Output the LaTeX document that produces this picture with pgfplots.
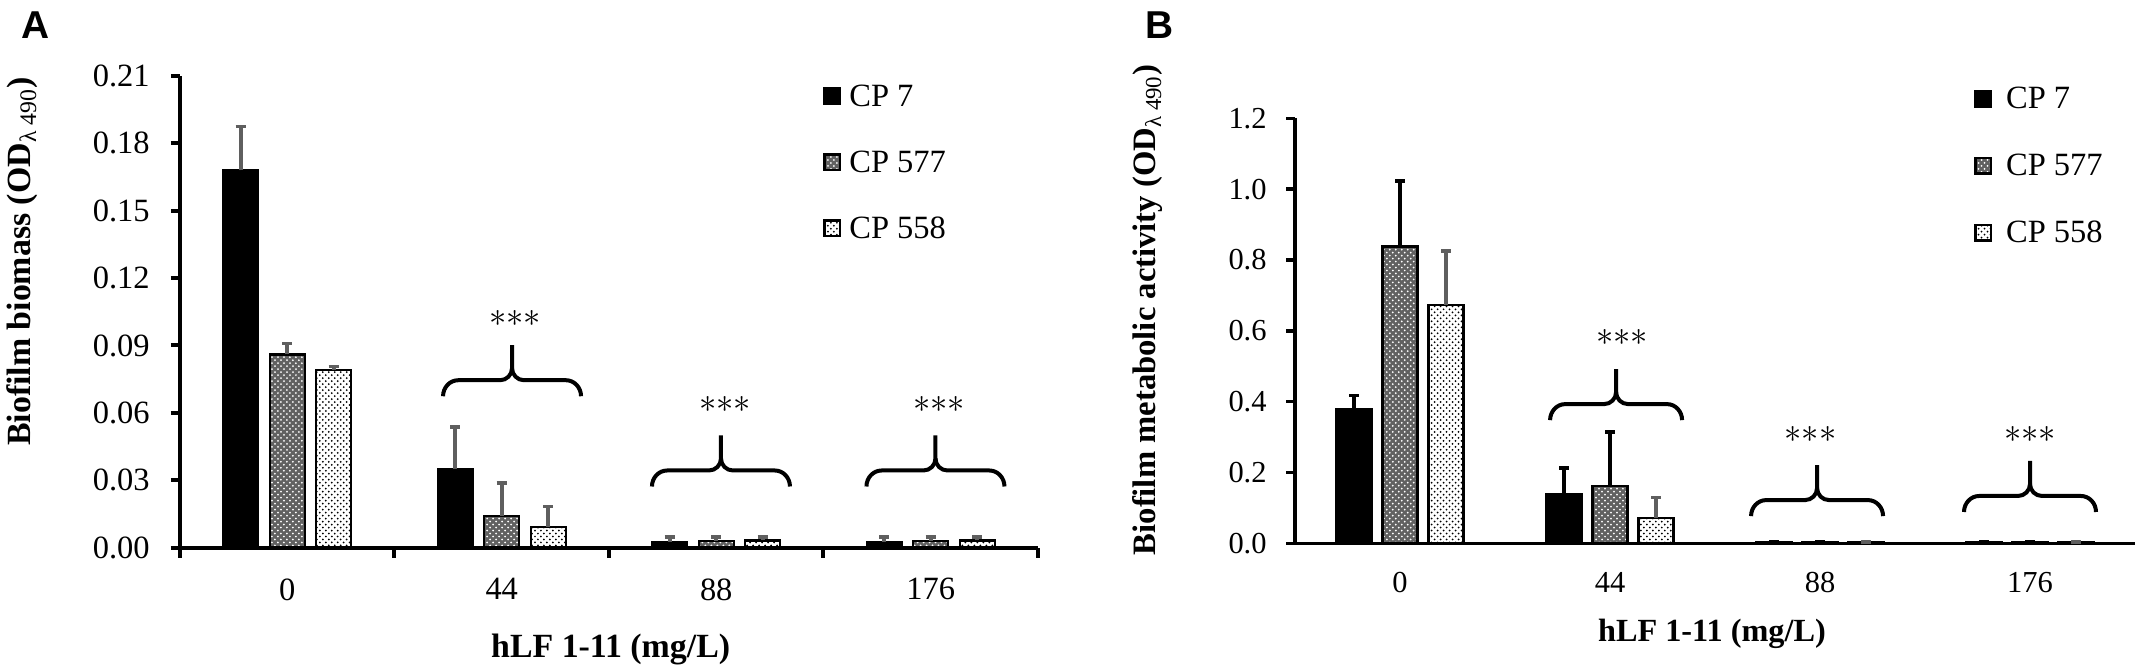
\documentclass[border=0pt]{standalone}
\usepackage{fontspec}
\setmainfont{Liberation Serif}
\newfontfamily\panelfont{Liberation Sans}
\usepackage{pgfplots}
\pgfplotsset{compat=1.18}
\usetikzlibrary{patterns}
\definecolor{errgray}{RGB}{95,95,95}

% brace: x, y (axis cs of the horizontal line centre), half width W, W-7.5
\newcommand{\brc}[4]{%
  \draw[line width=2bp, shift={(axis cs:#1,#2)}]
    (-#3,-8bp) .. controls (-#3,-3.6bp) and (-#4-4.1bp,0bp) .. (-#4,0bp)
    -- (-6bp,0bp) .. controls (-2.7bp,0bp) and (0bp,2.7bp) .. (0bp,6bp)
    -- (0bp,17.5bp);
  \draw[line width=2bp, shift={(axis cs:#1,#2)}]
    (#3,-8bp) .. controls (#3,-3.6bp) and (#4+4.1bp,0bp) .. (#4,0bp)
    -- (6bp,0bp) .. controls (2.7bp,0bp) and (0bp,2.7bp) .. (0bp,6bp);
}
\newcommand{\stars}[2]{%
  \node[font=\fontsize{16.5}{20}\selectfont, inner sep=0pt] at (axis cs:#1,#2) {${\ast}{\ast}{\ast}$};
}

\pgfplotsset{
  cp7/.style={fill=black, draw=black, line width=1.2bp},
  cp577/.style={preaction={fill=black!62}, pattern=crosshatch dots, pattern color=white, draw=black, line width=1.2bp},
  cp558/.style={preaction={fill=white}, pattern=crosshatch dots, pattern color=black, draw=black, line width=1.2bp},
}

\begin{document}
\begin{tikzpicture}
\useasboundingbox (0,0) rectangle (1069.5bp,-335.5bp);
\node[anchor=base west, inner sep=0pt, font=\panelfont\bfseries\fontsize{19.5}{22}\selectfont] at (10.5bp,-19bp) {A};
\node[anchor=base west, inner sep=0pt, font=\panelfont\bfseries\fontsize{19.5}{22}\selectfont] at (572.5bp,-19bp) {B};

% ---------------- Panel A ----------------
\begin{axis}[
  at={(90bp,-273.75bp)}, anchor=south west,
  scale only axis, width=429bp, height=235.75bp,
  xmin=-0.5, xmax=3.5, ymin=0, ymax=0.21,
  axis lines=left, axis line style={-, line width=2bp},
  clip=false,
  ybar=5.75bp, bar width=17.5bp,
  xtick={0,1,2,3}, xticklabels={0,44,88,176},
  minor xtick={-0.5,0.5,1.5,2.5,3.5},
  major x tick style={draw=none},
  minor x tick style={line width=2bp, black},
  minor tick length=5bp,
  major tick length=4.5bp,
  ytick={0,0.03,0.06,0.09,0.12,0.15,0.18,0.21},
  yticklabels={0.00,0.03,0.06,0.09,0.12,0.15,0.18,0.21},
  y tick style={line width=2bp, black},
  tick align=outside,
  tick label style={font=\fontsize{16.3}{18}\selectfont, inner sep=0pt},
  xticklabel style={anchor=north, yshift=-10.75bp},
  yticklabel style={anchor=east, xshift=-10.5bp},
  xlabel={\bfseries hLF 1-11 (mg/L)},
  xlabel style={at={(axis description cs:0.502,-0.2329)}, anchor=base, inner sep=0pt, font=\fontsize{17}{20}\selectfont},
  ylabel={\bfseries Biofilm biomass (OD\textsubscript{\mdseries λ 490})},
  ylabel style={at={(axis description cs:-0.1737,0.606)}, anchor=base, inner sep=0pt, font=\fontsize{17}{20}\selectfont},
  legend style={at={(0.7494,0.985)}, anchor=north west, draw=none, fill=none, inner sep=0pt, row sep=18bp,
    font=\fontsize{16.3}{18}\selectfont, nodes={inner sep=0pt, text height=11.5bp, text depth=3.5bp},
    /tikz/every odd column/.append style={column sep=4bp}},
  legend cell align=left,
  legend image code/.code={\draw[#1, line width=1.2bp] (0.6bp,-2.9bp) rectangle (8.4bp,4.9bp);},
  error bars/y dir=plus, error bars/y explicit,
]
\addplot[cp7, error bars/.cd, error bar style={line width=1.8bp, errgray}, error mark options={rotate=90, mark size=2.5bp, line width=1.8bp, errgray}]
  coordinates {(0,0.168) +- (0,0.0195) (1,0.035) +- (0,0.0187) (2,0.0025) +- (0,0.0022) (3,0.0025) +- (0,0.0022)};
\addlegendentry{CP 7}
\addplot[cp577, error bars/.cd, error bar style={line width=1.8bp, errgray}, error mark options={rotate=90, mark size=2.5bp, line width=1.8bp, errgray}]
  coordinates {(0,0.086) +- (0,0.0048) (1,0.014) +- (0,0.0147) (2,0.003) +- (0,0.0017) (3,0.003) +- (0,0.0017)};
\addlegendentry{CP 577}
\addplot[cp558, error bars/.cd, error bar style={line width=1.8bp, errgray}, error mark options={rotate=90, mark size=2.5bp, line width=1.8bp, errgray}]
  coordinates {(0,0.079) +- (0,0.0016) (1,0.0092) +- (0,0.009) (2,0.0032) +- (0,0.0015) (3,0.0032) +- (0,0.0015)};
\addlegendentry{CP 558}
\brc{1.048}{0.0745}{34.5bp}{27bp}
\brc{2.022}{0.0343}{34.5bp}{27bp}
\brc{3.022}{0.0343}{34.5bp}{27bp}
\stars{1.062}{0.102}
\stars{2.040}{0.0638}
\stars{3.040}{0.0638}
\end{axis}

% ---------------- Panel B ----------------
\begin{axis}[
  at={(647.5bp,-271.65bp)}, anchor=south west,
  scale only axis, width=420bp, height=212.5bp,
  xmin=-0.5, xmax=3.5, ymin=0, ymax=1.2,
  axis lines=left, axis line style={-, line width=1.8bp},
  clip=false,
  ybar=5.5bp, bar width=17.5bp,
  xtick={0,1,2,3}, xticklabels={0,44,88,176},
  major x tick style={draw=none},
  major tick length=4.5bp,
  ytick={0,0.2,0.4,0.6,0.8,1.0,1.2},
  yticklabels={0.0,0.2,0.4,0.6,0.8,1.0,1.2},
  y tick style={line width=1.8bp, black},
  tick align=outside,
  tick label style={font=\fontsize{15.3}{18}\selectfont, inner sep=0pt},
  xticklabel style={anchor=north, yshift=-10bp},
  yticklabel style={anchor=east, xshift=-9.5bp},
  xlabel={\bfseries hLF 1-11 (mg/L)},
  xlabel style={at={(axis description cs:0.4964,-0.2304)}, anchor=base, inner sep=0pt, font=\fontsize{16.2}{19}\selectfont},
  ylabel={\bfseries Biofilm metabolic activity (OD\textsubscript{\mdseries λ 490})},
  ylabel style={at={(axis description cs:-0.1655,0.549)}, anchor=base, inner sep=0pt, font=\fontsize{16.4}{19}\selectfont},
  legend style={at={(0.808,1.078)}, anchor=north west, draw=none, fill=none, inner sep=0pt, row sep=18.5bp,
    font=\fontsize{16.3}{18}\selectfont, nodes={inner sep=0pt, text height=11.5bp, text depth=3.5bp},
    /tikz/every odd column/.append style={column sep=7bp}},
  legend cell align=left,
  legend image code/.code={\draw[#1, line width=1.2bp] (0.6bp,-2.9bp) rectangle (8.4bp,4.9bp);},
  error bars/y dir=plus, error bars/y explicit,
]
\addplot[cp7, error bars/.cd, error bar style={line width=1.75bp, black}, error mark options={rotate=90, mark size=2.5bp, line width=1.75bp, black}]
  coordinates {(0,0.38) +- (0,0.038) (1,0.14) +- (0,0.072) (2,0.002) +- (0,0.002) (3,0.002) +- (0,0.002)};
\addlegendentry{CP 7}
\addplot[cp577, error bars/.cd, error bar style={line width=1.75bp, black}, error mark options={rotate=90, mark size=2.5bp, line width=1.75bp, black}]
  coordinates {(0,0.838) +- (0,0.185) (1,0.162) +- (0,0.152) (2,0.003) +- (0,0.002) (3,0.003) +- (0,0.002)};
\addlegendentry{CP 577}
\addplot[cp558, error bars/.cd, error bar style={line width=1.75bp, errgray}, error mark options={rotate=90, mark size=2.5bp, line width=1.75bp, errgray}]
  coordinates {(0,0.673) +- (0,0.153) (1,0.072) +- (0,0.058) (2,0.002) +- (0,0.002) (3,0.002) +- (0,0.002)};
\addlegendentry{CP 558}
\brc{1.029}{0.393}{33bp}{25.5bp}
\brc{1.986}{0.122}{33bp}{25.5bp}
\brc{3.000}{0.1336}{33bp}{25.5bp}
\stars{1.057}{0.580}
\stars{1.955}{0.3066}
\stars{3.000}{0.3066}
\end{axis}
\end{tikzpicture}
\end{document}
